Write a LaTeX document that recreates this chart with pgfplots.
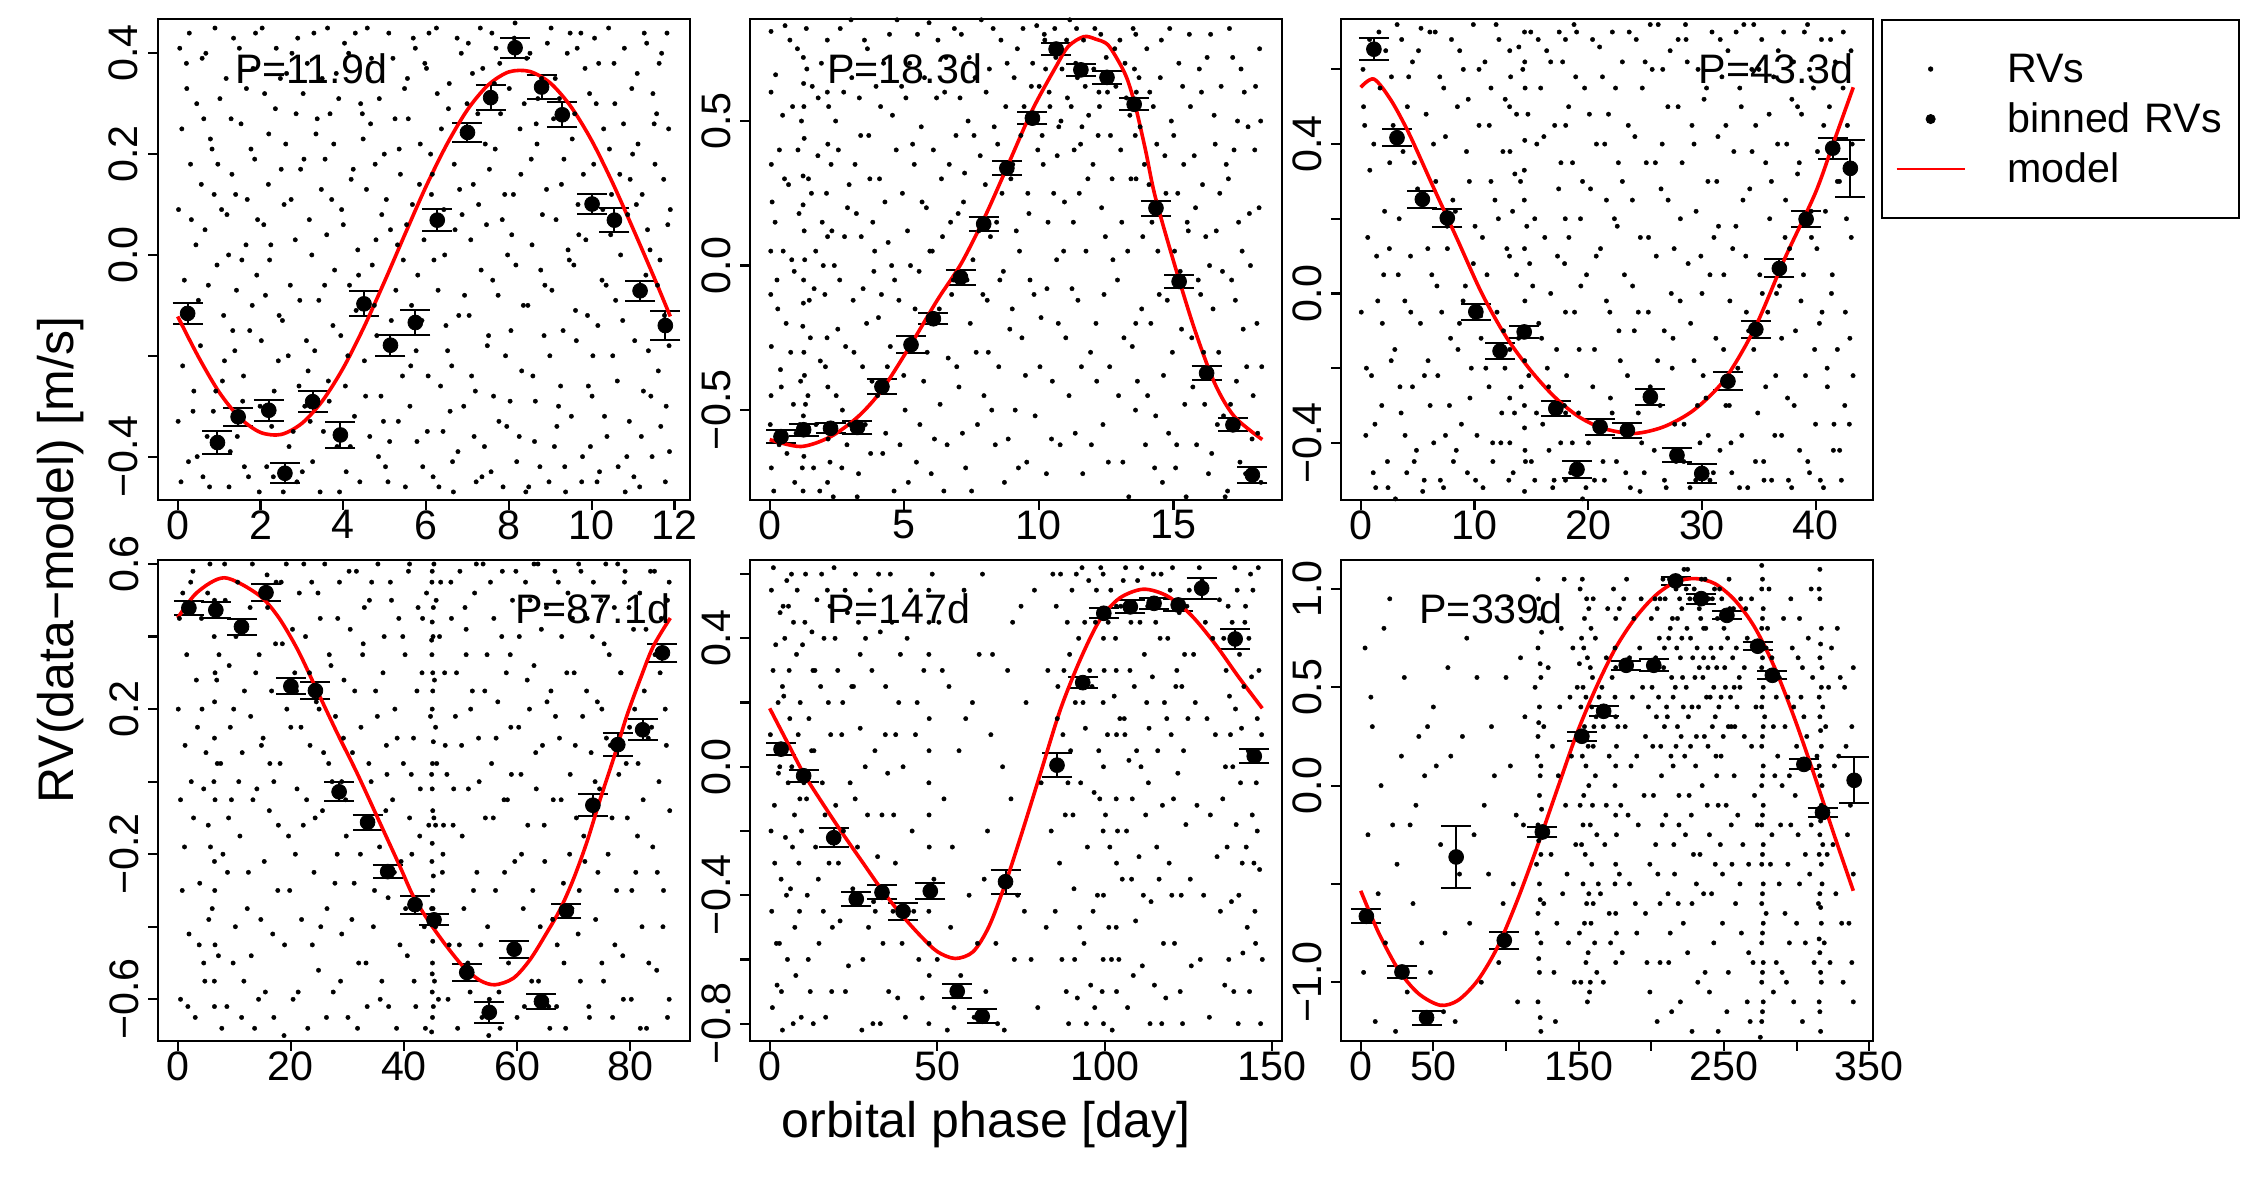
\documentclass[border=0pt]{standalone}
\usepackage{fontspec}
\setmainfont{Liberation Sans}
\usepackage{pgfplots}
\pgfplotsset{compat=1.18}

\definecolor{modelred}{RGB}{255,0,0}
\newcommand{\tlfont}{\fontsize{10.3}{12}\selectfont}
\newcommand{\lbfont}{\fontsize{12.5}{15}\selectfont}

\tikzset{ptext/.style={anchor=base west, inner sep=0pt, font=\tlfont}}
\pgfplotsset{
  panel/.style={
    scale only axis, width=133pt, height=120.25pt,
    anchor=south west,
    axis line style={line width=0.55pt},
    tick align=outside, tick pos=left,
    major tick length=2.4pt,
    tick style={black, line width=0.55pt},
    xticklabel style={anchor=north, inner xsep=0pt, inner ysep=0pt, font=\tlfont},
    yticklabel style={rotate=90, anchor=south, inner xsep=0pt, inner ysep=2.3pt, font=\tlfont},
    /pgf/number format/assume math mode=true,
  },
  rv/.style={only marks, mark=*, mark size=0.55pt, black, mark options={line width=0.1pt}},
  binned/.style={only marks, mark=*, mark size=1.85pt, black, mark options={line width=0.2pt},
    error bars/y dir=both, error bars/y explicit, error bars/error mark=-,
    error bars/error mark options={black, rotate=90, line width=0.5pt, mark size=3.75pt},
    error bars/error bar style={black, line width=0.5pt}},
  model/.style={modelred, line width=0.9pt, no marks, smooth, tension=0.5},
}

\begin{document}
\begin{tikzpicture}
\useasboundingbox (0,0) rectangle (562.5pt,300pt);

% ---------------- P = 11.9 d ----------------
\begin{axis}[panel, at={(39.5pt,175pt)},
  xmin=-0.476, xmax=12.376, ymin=-0.486, ymax=0.468,
  xtick={0,2,4,6,8,10,12}, xticklabels={0,2,4,6,8,10,12},
  ytick={-0.4,-0.2,0,0.2,0.4}, yticklabels={−0.4,,0.0,0.2,0.4}]
\addplot[rv] table[row sep=\\] {x y\\
0.05 0.41\\ 0.12 -0.22\\ 0.31 0.18\\ 0.08 -0.45\\ 0.44 0.02\\ 0.22 0.33\\ 0.37 -0.31\\ 0.02 0.09\\ 0.16 -0.05\\ 0.47 -0.40\\ 0.28 0.44\\
0.55 -0.18\\ 0.63 0.27\\ 0.71 -0.36\\ 0.88 0.12\\ 0.95 -0.02\\ 0.59 0.39\\ 0.77 -0.46\\ 0.83 0.21\\ 0.92 -0.27\\ 0.66 0.05\\
1.02 0.31\\ 1.11 -0.12\\ 1.19 0.08\\ 1.27 -0.39\\ 1.35 0.43\\ 1.42 -0.07\\ 1.08 -0.25\\ 1.31 0.16\\ 1.46 -0.33\\ 1.23 0.00\\ 1.38 -0.19\\
1.53 0.26\\ 1.61 -0.42\\ 1.68 0.11\\ 1.74 -0.15\\ 1.82 0.37\\ 1.91 -0.04\\ 1.57 -0.29\\ 1.86 0.19\\ 1.97 -0.47\\ 1.65 0.02\\
2.04 0.45\\ 2.12 -0.08\\ 2.19 0.14\\ 2.27 -0.34\\ 2.36 0.29\\ 2.43 -0.21\\ 2.08 0.06\\ 2.31 -0.44\\ 2.48 0.35\\ 2.22 -0.01\\
2.53 -0.13\\ 2.61 0.22\\ 2.69 -0.38\\ 2.76 0.40\\ 2.84 0.03\\ 2.93 -0.26\\ 2.57 0.10\\ 2.88 -0.45\\ 2.97 0.17\\ 2.72 -0.06\\
3.03 0.32\\ 3.11 -0.17\\ 3.18 0.07\\ 3.26 -0.41\\ 3.34 0.24\\ 3.41 -0.09\\ 3.07 -0.30\\ 3.29 0.44\\ 3.47 0.13\\ 3.15 -0.23\\
3.52 -0.35\\ 3.60 0.04\\ 3.68 0.28\\ 3.75 -0.14\\ 3.83 0.36\\ 3.91 -0.47\\ 3.56 0.19\\ 3.79 -0.03\\ 3.96 0.09\\ 3.64 -0.25\\
4.03 0.42\\ 4.11 -0.20\\ 4.19 0.15\\ 4.27 -0.32\\ 4.35 0.01\\ 4.42 0.30\\ 4.07 -0.43\\ 4.31 -0.11\\ 4.48 0.23\\ 4.15 -0.06\\
4.54 -0.28\\ 4.62 0.35\\ 4.70 -0.02\\ 4.77 0.18\\ 4.85 -0.40\\ 4.93 0.08\\ 4.58 0.45\\ 4.81 -0.16\\ 4.97 -0.33\\ 4.66 0.26\\
5.04 0.11\\ 5.12 -0.37\\ 5.20 0.39\\ 5.27 -0.07\\ 5.35 0.21\\ 5.43 -0.24\\ 5.08 -0.45\\ 5.31 0.02\\ 5.48 0.33\\ 5.16 -0.13\\
5.53 0.06\\ 5.61 -0.30\\ 5.69 0.43\\ 5.76 -0.19\\ 5.84 0.14\\ 5.92 -0.42\\ 5.57 0.27\\ 5.80 -0.04\\ 5.97 0.38\\ 5.65 -0.10\\
6.03 -0.35\\ 6.11 0.20\\ 6.19 -0.01\\ 6.27 0.32\\ 6.35 -0.26\\ 6.43 0.09\\ 6.07 0.44\\ 6.31 -0.46\\ 6.48 -0.14\\ 6.15 0.16\\
6.54 0.29\\ 6.62 -0.22\\ 6.70 0.05\\ 6.77 -0.39\\ 6.85 0.40\\ 6.93 -0.08\\ 6.58 -0.31\\ 6.81 0.13\\ 6.97 0.24\\ 6.66 -0.47\\
7.04 -0.12\\ 7.12 0.36\\ 7.19 -0.27\\ 7.27 0.10\\ 7.35 -0.44\\ 7.43 0.22\\ 7.08 0.03\\ 7.31 0.45\\ 7.48 -0.18\\ 7.16 -0.36\\
7.53 0.17\\ 7.61 -0.05\\ 7.69 0.41\\ 7.76 -0.33\\ 7.84 0.07\\ 7.92 -0.20\\ 7.57 -0.43\\ 7.80 0.28\\ 7.97 0.00\\ 7.65 0.34\\
8.03 -0.29\\ 8.11 0.12\\ 8.19 -0.41\\ 8.27 0.25\\ 8.35 -0.10\\ 8.43 0.39\\ 8.07 0.04\\ 8.31 -0.23\\ 8.48 -0.46\\ 8.15 0.46\\
8.54 0.19\\ 8.62 -0.37\\ 8.70 0.31\\ 8.77 -0.03\\ 8.85 -0.16\\ 8.93 0.42\\ 8.58 -0.24\\ 8.81 0.08\\ 8.97 -0.45\\ 8.66 0.26\\
9.04 -0.07\\ 9.12 0.35\\ 9.20 -0.30\\ 9.27 0.14\\ 9.35 -0.42\\ 9.43 0.01\\ 9.08 0.27\\ 9.31 -0.15\\ 9.48 0.44\\ 9.16 -0.34\\
9.53 0.23\\ 9.61 -0.11\\ 9.69 0.04\\ 9.76 -0.45\\ 9.84 0.37\\ 9.92 -0.26\\ 9.57 -0.02\\ 9.80 0.16\\ 9.97 -0.38\\ 9.65 0.41\\
10.03 -0.20\\ 10.11 0.30\\ 10.19 -0.43\\ 10.27 0.09\\ 10.35 -0.06\\ 10.43 0.21\\ 10.07 0.43\\ 10.31 -0.32\\ 10.48 0.12\\ 10.15 -0.14\\
10.54 0.38\\ 10.62 -0.25\\ 10.70 0.00\\ 10.77 0.26\\ 10.85 -0.40\\ 10.93 0.15\\ 10.58 -0.09\\ 10.81 -0.47\\ 10.97 0.33\\ 10.66 0.07\\
11.04 -0.17\\ 11.12 0.22\\ 11.20 -0.36\\ 11.27 0.44\\ 11.35 0.05\\ 11.43 -0.28\\ 11.08 0.10\\ 11.31 -0.04\\ 11.48 0.32\\ 11.16 -0.46\\
11.53 0.18\\ 11.61 -0.23\\ 11.69 0.40\\ 11.76 -0.12\\ 11.84 0.06\\ 11.88 -0.39\\ 11.57 0.28\\ 11.80 -0.30\\ 11.86 0.25\\ 11.65 -0.01\\
};
\addplot[rv, forget plot] table[row sep=\\] {x y\\
0.01 -0.33\\ 0.10 0.25\\ 0.14 -0.12\\ 0.21 0.38\\ 0.26 -0.41\\ 0.33 0.07\\ 0.39 -0.27\\ 0.46 0.30\\ 0.50 -0.09\\ 0.57 0.14\\ 0.61 -0.44\\ 0.68 0.40\\
0.74 -0.06\\ 0.79 0.23\\ 0.86 -0.31\\ 0.90 0.45\\ 0.97 0.18\\ 1.00 -0.38\\ 1.06 0.09\\ 1.13 -0.21\\ 1.17 0.35\\ 1.24 -0.46\\ 1.29 0.27\\ 1.33 -0.15\\
1.40 0.12\\ 1.44 -0.36\\ 1.49 0.41\\ 1.55 -0.01\\ 1.59 -0.24\\ 1.66 0.33\\ 1.71 -0.44\\ 1.77 0.21\\ 1.80 -0.10\\ 1.88 0.44\\ 1.93 0.07\\ 1.99 -0.30\\
2.02 -0.17\\ 2.10 0.32\\ 2.15 -0.42\\ 2.20 0.24\\ 2.25 0.02\\ 2.33 -0.27\\ 2.38 0.41\\ 2.45 -0.12\\ 2.50 0.17\\ 2.55 -0.47\\ 2.63 0.36\\ 2.67 -0.20\\
2.74 0.11\\ 2.79 -0.35\\ 2.86 0.28\\ 2.90 0.43\\ 2.95 -0.09\\ 3.01 -0.43\\ 3.05 0.19\\ 3.13 0.38\\ 3.20 -0.33\\ 3.24 0.00\\ 3.31 -0.19\\ 3.37 0.27\\
3.44 -0.47\\ 3.49 0.35\\ 3.55 -0.06\\ 3.62 0.45\\ 3.66 -0.29\\ 3.72 0.11\\ 3.77 0.22\\ 3.85 -0.38\\ 3.89 0.31\\ 3.94 -0.16\\ 4.00 0.06\\ 4.05 -0.26\\
4.13 0.40\\ 4.17 -0.38\\ 4.24 0.17\\ 4.29 0.44\\ 4.37 -0.04\\ 4.40 -0.45\\ 4.46 0.28\\ 4.51 -0.21\\ 4.56 0.13\\ 4.64 -0.36\\ 4.68 0.39\\ 4.75 -0.10\\
4.79 0.03\\ 4.87 0.31\\ 4.91 -0.28\\ 4.99 0.20\\ 5.02 -0.42\\ 5.10 0.44\\ 5.14 0.05\\ 5.22 -0.18\\ 5.25 0.27\\ 5.33 -0.33\\ 5.38 0.16\\ 5.45 -0.01\\
5.50 -0.46\\ 5.55 0.35\\ 5.63 -0.22\\ 5.67 0.10\\ 5.74 0.41\\ 5.78 -0.37\\ 5.86 0.22\\ 5.90 -0.13\\ 5.95 0.03\\ 6.01 0.37\\ 6.05 -0.24\\ 6.13 0.12\\
6.17 -0.44\\ 6.25 0.45\\ 6.29 -0.07\\ 6.37 0.25\\ 6.41 -0.35\\ 6.45 0.00\\ 6.52 -0.19\\ 6.56 0.34\\ 6.64 -0.41\\ 6.68 0.18\\ 6.75 0.43\\ 6.79 -0.12\\
6.87 0.08\\ 6.91 -0.30\\ 6.99 0.30\\ 7.02 0.42\\ 7.10 -0.24\\ 7.14 0.14\\ 7.21 -0.45\\ 7.25 0.28\\ 7.33 -0.03\\ 7.37 0.37\\ 7.41 -0.38\\ 7.46 0.06\\
7.51 -0.16\\ 7.59 0.44\\ 7.63 -0.28\\ 7.67 0.21\\ 7.74 -0.08\\ 7.78 0.38\\ 7.86 -0.46\\ 7.90 0.12\\ 7.95 -0.34\\ 8.01 0.33\\ 8.05 -0.15\\ 8.13 0.43\\
8.17 -0.02\\ 8.25 -0.36\\ 8.29 0.16\\ 8.37 0.30\\ 8.41 -0.47\\ 8.46 -0.10\\ 8.51 0.40\\ 8.56 0.02\\ 8.64 -0.29\\ 8.68 0.22\\ 8.75 -0.42\\ 8.79 0.35\\
8.87 -0.06\\ 8.91 0.13\\ 8.99 -0.20\\ 9.02 0.45\\ 9.10 -0.38\\ 9.14 0.07\\ 9.22 0.31\\ 9.25 -0.26\\ 9.33 0.19\\ 9.37 -0.47\\ 9.41 0.40\\ 9.46 -0.01\\
9.51 -0.32\\ 9.59 0.28\\ 9.63 -0.17\\ 9.67 0.10\\ 9.74 0.44\\ 9.78 -0.40\\ 9.86 0.03\\ 9.90 -0.12\\ 9.95 0.32\\ 10.01 -0.28\\ 10.05 0.18\\ 10.13 -0.45\\
10.17 0.38\\ 10.25 -0.05\\ 10.29 0.25\\ 10.37 -0.36\\ 10.41 0.45\\ 10.46 0.04\\ 10.51 -0.20\\ 10.56 0.30\\ 10.64 -0.42\\ 10.68 0.16\\ 10.75 -0.13\\ 10.79 0.41\\
10.87 0.08\\ 10.91 -0.33\\ 10.99 0.20\\ 11.02 -0.44\\ 11.10 0.36\\ 11.14 -0.08\\ 11.22 0.12\\ 11.25 -0.27\\ 11.33 0.42\\ 11.37 -0.19\\ 11.41 0.01\\ 11.46 -0.40\\
11.51 0.26\\ 11.59 -0.06\\ 11.63 0.38\\ 11.67 -0.34\\ 11.74 0.15\\ 11.78 -0.45\\ 11.82 0.44\\ 11.87 -0.18\\ 11.90 0.09\\
};
\addplot[binned] coordinates {
(0.24,-0.116) +- (0,0.021) (0.96,-0.372) +- (0,0.022) (1.46,-0.321) +- (0,0.018)
(2.20,-0.308) +- (0,0.021) (2.59,-0.433) +- (0,0.020) (3.26,-0.291) +- (0,0.021)
(3.93,-0.357) +- (0,0.025) (4.50,-0.097) +- (0,0.025) (5.14,-0.179) +- (0,0.021)
(5.74,-0.134) +- (0,0.025) (6.27,0.069) +- (0,0.022) (7.00,0.243) +- (0,0.019)
(7.56,0.312) +- (0,0.025) (8.15,0.411) +- (0,0.020) (8.79,0.333) +- (0,0.024)
(9.29,0.278) +- (0,0.025) (10.01,0.101) +- (0,0.020) (10.55,0.069) +- (0,0.024)
(11.17,-0.071) +- (0,0.020) (11.78,-0.140) +- (0,0.029)
};
\addplot[model] coordinates {
(0,-0.122) (0.5,-0.202) (1.0,-0.272) (1.5,-0.323) (2.0,-0.352) (2.5,-0.356) (3.0,-0.334)
(3.5,-0.289) (4.0,-0.224) (4.5,-0.143) (5.0,-0.052) (5.5,0.043) (6.0,0.136) (6.5,0.219)
(7.0,0.288) (7.5,0.337) (8.0,0.363) (8.5,0.364) (9.0,0.341) (9.5,0.294) (10.0,0.227)
(10.5,0.144) (11.0,0.052) (11.5,-0.043) (11.9,-0.122)
};
\node[ptext] at (rel axis cs:0.144,0.866) {P=11.9d};
\end{axis}

% ---------------- P = 18.3 d ----------------
\begin{axis}[panel, at={(187.5pt,175pt)},
  xmin=-0.732, xmax=19.032, ymin=-0.811, ymax=0.853,
  xtick={0,5,10,15}, xticklabels={0,5,10,15},
  ytick={-0.5,0,0.5}, yticklabels={−0.5,0.0,0.5}]
\addplot[rv] table[row sep=\\] {x y\\
1.25 0.72\\ 1.27 0.55\\ 1.24 0.31\\ 1.28 0.12\\ 1.26 -0.05\\ 1.23 -0.21\\ 1.29 -0.38\\ 1.25 -0.52\\ 1.27 -0.66\\ 1.24 -0.78\\ 1.26 0.63\\ 1.28 0.44\\ 1.25 -0.13\\ 1.27 -0.30\\ 1.24 0.21\\
0.05 0.81\\ 0.06 0.35\\ 0.04 -0.10\\ 0.05 -0.45\\ 0.06 -0.70\\ 0.05 0.60\\ 0.04 0.05\\ 0.06 -0.28\\
2.14 0.78\\ 2.16 0.42\\ 2.15 0.10\\ 2.13 -0.25\\ 2.17 -0.60\\ 2.15 -0.75\\ 2.14 0.60\\ 2.16 -0.42\\
13.60 0.80\\ 13.62 0.60\\ 13.58 0.45\\ 13.61 0.30\\ 13.60 -0.20\\ 13.59 -0.50\\
0.20 0.15\\ 0.35 -0.62\\ 0.48 0.52\\ 0.61 -0.20\\ 0.75 0.78\\ 0.88 -0.48\\ 0.27 -0.05\\ 0.55 0.30\\ 0.82 0.02\\ 0.93 -0.75\\ 0.40 -0.36\\
1.05 0.40\\ 1.12 -0.55\\ 1.38 0.68\\ 1.47 -0.12\\ 1.55 0.25\\ 1.63 -0.70\\ 1.71 0.05\\ 1.80 0.58\\ 1.88 -0.33\\ 1.95 0.15\\ 1.42 -0.45\\
2.05 -0.10\\ 2.28 0.35\\ 2.36 -0.80\\ 2.45 0.50\\ 2.53 -0.22\\ 2.62 0.82\\ 2.70 -0.50\\ 2.78 0.10\\ 2.87 -0.62\\ 2.95 0.28\\ 2.40 0.00\\
3.05 0.65\\ 3.13 -0.30\\ 3.22 0.18\\ 3.30 -0.72\\ 3.38 0.45\\ 3.47 -0.08\\ 3.55 -0.55\\ 3.63 0.75\\ 3.72 0.30\\ 3.80 -0.40\\ 3.90 0.05\\
4.04 -0.18\\ 4.12 0.55\\ 4.20 -0.65\\ 4.28 0.22\\ 4.37 -0.35\\ 4.45 0.80\\ 4.53 0.00\\ 4.62 -0.78\\ 4.70 0.40\\ 4.80 -0.12\\ 4.90 0.62\\
5.03 -0.50\\ 5.12 0.12\\ 5.20 0.70\\ 5.28 -0.25\\ 5.37 0.35\\ 5.45 -0.68\\ 5.55 -0.02\\ 5.63 0.48\\ 5.72 -0.40\\ 5.82 0.20\\ 5.92 0.84\\
6.04 0.05\\ 6.12 -0.60\\ 6.20 0.58\\ 6.30 -0.15\\ 6.38 0.30\\ 6.47 -0.78\\ 6.55 0.72\\ 6.63 -0.32\\ 6.72 0.15\\ 6.82 -0.05\\ 6.92 0.45\\
7.03 -0.42\\ 7.12 0.80\\ 7.20 0.22\\ 7.28 -0.70\\ 7.37 0.50\\ 7.45 -0.20\\ 7.55 0.02\\ 7.63 0.65\\ 7.72 -0.55\\ 7.82 0.38\\ 7.92 -0.10\\
8.04 0.60\\ 8.12 -0.30\\ 8.20 0.10\\ 8.30 0.82\\ 8.38 -0.62\\ 8.47 0.42\\ 8.55 -0.05\\ 8.63 0.25\\ 8.72 -0.75\\ 8.82 0.70\\ 8.92 -0.22\\
9.03 0.35\\ 9.12 -0.50\\ 9.20 0.75\\ 9.28 0.05\\ 9.37 -0.25\\ 9.45 0.55\\ 9.55 -0.68\\ 9.63 0.18\\ 9.72 0.62\\ 9.82 -0.10\\ 9.92 0.83\\
10.04 -0.35\\ 10.12 0.45\\ 10.20 0.80\\ 10.30 -0.08\\ 10.38 0.60\\ 10.47 -0.60\\ 10.55 0.25\\ 10.63 0.72\\ 10.72 -0.20\\ 10.82 0.50\\ 10.92 0.05\\ 10.25 0.68\\ 10.68 0.38\\
11.03 0.78\\ 11.12 -0.45\\ 11.20 0.55\\ 11.28 0.15\\ 11.37 0.70\\ 11.45 -0.12\\ 11.55 0.42\\ 11.63 -0.72\\ 11.72 0.62\\ 11.82 0.30\\ 11.92 -0.30\\ 11.40 0.82\\ 11.60 0.48\\
12.04 0.68\\ 12.12 -0.20\\ 12.20 0.45\\ 12.30 0.80\\ 12.38 -0.55\\ 12.47 0.10\\ 12.55 0.60\\ 12.63 -0.35\\ 12.72 0.30\\ 12.82 0.75\\ 12.92 -0.05\\ 12.25 0.55\\
13.04 0.40\\ 13.12 -0.68\\ 13.20 0.70\\ 13.30 0.05\\ 13.38 0.52\\ 13.47 -0.28\\ 13.72 0.65\\ 13.82 -0.15\\ 13.92 0.35\\ 13.50 0.82\\
14.04 -0.45\\ 14.12 0.60\\ 14.20 0.15\\ 14.30 -0.70\\ 14.38 0.42\\ 14.47 -0.10\\ 14.55 0.78\\ 14.63 -0.38\\ 14.72 0.25\\ 14.82 -0.58\\ 14.92 0.50\\
15.04 0.05\\ 15.12 -0.62\\ 15.20 0.70\\ 15.30 -0.22\\ 15.38 0.35\\ 15.47 -0.80\\ 15.55 0.12\\ 15.63 0.55\\ 15.72 -0.42\\ 15.82 0.20\\ 15.92 -0.05\\
16.04 0.60\\ 16.12 -0.30\\ 16.20 0.10\\ 16.30 -0.72\\ 16.38 0.80\\ 16.47 -0.15\\ 16.55 0.42\\ 16.63 -0.55\\ 16.72 0.25\\ 16.82 -0.02\\ 16.92 -0.80\\
17.04 0.30\\ 17.12 -0.48\\ 17.20 0.72\\ 17.30 -0.12\\ 17.38 0.50\\ 17.47 -0.68\\ 17.55 0.05\\ 17.63 0.60\\ 17.72 -0.35\\ 17.82 0.18\\ 17.92 -0.60\\ 18.02 0.40\\ 18.10 -0.20\\ 18.20 0.75\\ 18.25 -0.75\\
};
\addplot[rv, forget plot] table[row sep=\\] {x y\\
0.02 -0.55\\ 0.09 0.22\\ 0.15 -0.78\\ 0.22 0.66\\ 0.30 -0.15\\ 0.36 0.40\\ 0.43 -0.42\\ 0.50 0.05\\ 0.57 0.83\\ 0.64 -0.65\\ 0.70 0.28\\ 0.78 -0.30\\
0.85 0.55\\ 0.91 -0.02\\ 0.98 -0.58\\ 1.03 0.75\\ 1.09 0.18\\ 1.15 -0.40\\ 1.18 0.50\\ 1.21 -0.70\\ 1.30 0.02\\ 1.33 -0.48\\ 1.36 0.82\\ 1.44 0.30\\
1.51 -0.25\\ 1.58 0.62\\ 1.65 -0.08\\ 1.72 -0.55\\ 1.79 0.38\\ 1.86 -0.78\\ 1.92 0.70\\ 1.99 0.00\\ 2.07 -0.35\\ 2.11 0.25\\ 2.19 0.55\\ 2.24 -0.68\\
2.31 0.12\\ 2.38 0.72\\ 2.47 -0.45\\ 2.55 0.40\\ 2.60 -0.05\\ 2.68 -0.70\\ 2.75 0.60\\ 2.82 -0.28\\ 2.89 0.20\\ 2.97 -0.55\\ 3.02 0.85\\ 3.10 -0.12\\
3.17 0.35\\ 3.25 -0.80\\ 3.33 0.58\\ 3.40 0.10\\ 3.45 -0.35\\ 3.52 0.78\\ 3.60 -0.20\\ 3.68 0.45\\ 3.75 -0.65\\ 3.83 0.15\\ 3.87 -0.02\\ 3.95 0.62\\
4.01 -0.45\\ 4.08 0.30\\ 4.15 -0.10\\ 4.23 0.70\\ 4.31 -0.58\\ 4.40 0.08\\ 4.48 -0.28\\ 4.56 0.52\\ 4.64 -0.05\\ 4.73 0.85\\ 4.84 -0.62\\ 4.93 0.25\\
4.98 -0.38\\ 5.06 0.58\\ 5.15 -0.75\\ 5.23 0.00\\ 5.31 0.42\\ 5.40 -0.15\\ 5.49 0.80\\ 5.58 -0.55\\ 5.66 0.22\\ 5.75 0.65\\ 5.85 -0.30\\ 5.95 0.05\\
6.00 -0.72\\ 6.08 0.40\\ 6.16 -0.20\\ 6.25 0.78\\ 6.33 -0.48\\ 6.42 0.10\\ 6.50 0.60\\ 6.59 -0.62\\ 6.67 0.35\\ 6.76 -0.10\\ 6.86 0.82\\ 6.95 -0.35\\
7.00 0.18\\ 7.07 0.58\\ 7.16 -0.58\\ 7.24 0.32\\ 7.33 -0.05\\ 7.41 0.72\\ 7.50 -0.78\\ 7.59 0.45\\ 7.67 -0.30\\ 7.77 0.12\\ 7.86 0.85\\ 7.96 -0.45\\
8.01 0.28\\ 8.08 -0.12\\ 8.16 0.68\\ 8.25 -0.50\\ 8.34 0.48\\ 8.43 0.15\\ 8.51 -0.35\\ 8.59 0.78\\ 8.68 -0.02\\ 8.77 0.55\\ 8.86 -0.60\\ 8.96 0.30\\
9.01 -0.15\\ 9.08 0.65\\ 9.16 0.12\\ 9.24 -0.70\\ 9.33 0.45\\ 9.41 0.82\\ 9.50 -0.38\\ 9.59 0.25\\ 9.67 -0.05\\ 9.77 0.70\\ 9.86 -0.52\\ 9.96 0.40\\
10.01 0.62\\ 10.08 -0.18\\ 10.16 0.35\\ 10.22 0.78\\ 10.28 -0.72\\ 10.34 0.15\\ 10.41 0.55\\ 10.50 -0.40\\ 10.59 0.82\\ 10.66 0.02\\ 10.74 0.48\\ 10.79 -0.62\\
10.86 0.68\\ 10.95 0.22\\ 11.00 -0.25\\ 11.06 0.58\\ 11.15 0.85\\ 11.23 -0.08\\ 11.31 0.40\\ 11.35 -0.58\\ 11.43 0.65\\ 11.50 0.25\\ 11.58 -0.35\\ 11.66 0.78\\
11.75 0.05\\ 11.85 0.52\\ 11.95 -0.62\\ 12.01 0.35\\ 12.08 0.82\\ 12.15 -0.40\\ 12.23 0.60\\ 12.33 0.20\\ 12.42 -0.10\\ 12.50 0.72\\ 12.58 -0.68\\ 12.66 0.45\\
12.75 0.02\\ 12.86 0.62\\ 12.96 -0.45\\ 13.01 0.78\\ 13.08 0.15\\ 13.16 -0.25\\ 13.25 0.58\\ 13.34 -0.80\\ 13.42 0.30\\ 13.55 0.68\\ 13.66 -0.40\\ 13.76 0.48\\
13.86 0.10\\ 13.96 -0.62\\ 14.01 0.75\\ 14.09 0.28\\ 14.16 -0.20\\ 14.25 0.55\\ 14.34 -0.52\\ 14.42 0.05\\ 14.51 0.65\\ 14.59 -0.75\\ 14.68 0.38\\ 14.77 -0.12\\
14.86 0.82\\ 14.96 -0.30\\ 15.01 0.45\\ 15.08 -0.70\\ 15.16 0.25\\ 15.25 -0.02\\ 15.34 0.62\\ 15.42 -0.48\\ 15.51 0.15\\ 15.59 0.80\\ 15.68 -0.25\\ 15.77 0.38\\
15.86 -0.62\\ 15.96 0.68\\ 16.01 -0.10\\ 16.08 0.28\\ 16.16 -0.48\\ 16.25 0.72\\ 16.34 0.00\\ 16.42 -0.65\\ 16.51 0.52\\ 16.59 0.12\\ 16.68 -0.30\\ 16.77 0.62\\
16.86 -0.52\\ 16.96 0.35\\ 17.01 -0.78\\ 17.08 0.82\\ 17.16 -0.05\\ 17.25 0.40\\ 17.34 -0.40\\ 17.42 0.15\\ 17.51 0.68\\ 17.59 -0.22\\ 17.68 -0.72\\ 17.77 0.48\\
17.86 0.00\\ 17.96 -0.45\\ 18.05 0.62\\ 18.13 -0.58\\ 18.18 0.20\\ 18.24 0.50\\ 18.28 -0.35\\
};
\addplot[binned] coordinates {
(0.42,-0.592) +- (0,0.022) (1.26,-0.568) +- (0,0.020) (2.26,-0.563) +- (0,0.017)
(3.26,-0.560) +- (0,0.023) (4.17,-0.419) +- (0,0.026) (5.25,-0.274) +- (0,0.029)
(6.08,-0.184) +- (0,0.019) (7.09,-0.041) +- (0,0.026) (7.95,0.144) +- (0,0.023)
(8.81,0.337) +- (0,0.023) (9.76,0.510) +- (0,0.021) (10.64,0.749) +- (0,0.022)
(11.56,0.677) +- (0,0.022) (12.53,0.651) +- (0,0.023) (13.54,0.558) +- (0,0.020)
(14.35,0.199) +- (0,0.026) (15.21,-0.055) +- (0,0.022) (16.23,-0.372) +- (0,0.024)
(17.21,-0.551) +- (0,0.022) (17.93,-0.724) +- (0,0.028)
};
\addplot[model] coordinates {
(0,-0.602) (1.16,-0.626) (2.26,-0.592) (3.29,-0.522) (4.17,-0.430) (5.20,-0.280)
(6.23,-0.119) (7.12,0.008) (8.00,0.170) (8.88,0.354) (9.76,0.539) (10.64,0.689)
(11.09,0.758) (11.67,0.792) (12.12,0.783) (12.56,0.764) (13.00,0.700) (13.29,0.643)
(13.59,0.550) (13.96,0.400) (14.32,0.239) (15.06,-0.003) (15.79,-0.222) (16.53,-0.407)
(17.26,-0.522) (18.30,-0.602)
};
\node[ptext] at (rel axis cs:0.144,0.866) {P=18.3d};
\end{axis}

% ---------------- P = 43.3 d ----------------
\begin{axis}[panel, at={(335.25pt,175pt)},
  xmin=-1.732, xmax=45.032, ymin=-0.553, ymax=0.735,
  xtick={0,10,20,30,40}, xticklabels={0,10,20,30,40},
  ytick={-0.4,-0.2,0,0.2,0.4,0.6}, yticklabels={−0.4,,0.0,,0.4,},
  legend style={at={(1,1)}, anchor=north west, xshift=2pt, draw=black, line width=0.55pt,
    inner xsep=3.4pt, inner ysep=6pt, column sep=10.4pt, font=\tlfont,
    nodes={inner sep=0pt, text height=9.5pt, text depth=3pt, text width=54.5pt, align=left}},
  legend cell align=left]
\addplot[rv, legend image post style={mark size=0.6pt}] table[row sep=\\] {x y\\
14.40 0.70\\ 14.45 0.55\\ 14.42 0.41\\ 14.38 0.25\\ 14.40 0.12\\ 14.43 -0.02\\ 14.41 -0.18\\ 14.39 -0.30\\ 14.44 -0.42\\ 14.40 -0.53\\ 14.42 0.62\\ 14.38 0.33\\ 14.41 -0.10\\ 14.40 -0.36\\
13.10 0.65\\ 13.12 0.38\\ 13.08 0.10\\ 13.10 -0.15\\ 13.11 -0.40\\ 13.09 0.50\\ 13.10 -0.28\\
18.00 0.68\\ 18.02 0.45\\ 17.98 0.20\\ 18.00 -0.05\\ 18.01 -0.32\\ 18.00 -0.50\\
0.2 0.60\\ 0.5 -0.20\\ 0.8 0.33\\ 1.1 -0.48\\ 1.4 0.10\\ 1.6 0.70\\ 1.9 -0.08\\ 0.35 0.45\\ 1.25 -0.35\\
2.1 0.22\\ 2.4 -0.52\\ 2.7 0.58\\ 3.0 -0.15\\ 3.3 0.05\\ 3.6 0.68\\ 3.9 -0.38\\ 2.55 0.35\\ 3.45 -0.25\\
4.1 0.50\\ 4.4 -0.05\\ 4.7 -0.45\\ 5.0 0.28\\ 5.3 0.71\\ 5.6 -0.22\\ 5.9 0.12\\ 4.55 0.62\\ 5.45 -0.53\\
6.1 -0.30\\ 6.4 0.40\\ 6.7 0.02\\ 7.0 -0.50\\ 7.3 0.55\\ 7.6 0.18\\ 7.9 -0.12\\ 6.55 0.70\\ 7.45 -0.38\\
8.1 0.25\\ 8.4 -0.42\\ 8.7 0.65\\ 9.0 -0.02\\ 9.3 0.38\\ 9.6 -0.28\\ 9.9 0.08\\ 8.55 -0.15\\ 9.45 0.52\\
10.1 -0.50\\ 10.4 0.60\\ 10.7 0.15\\ 11.0 -0.20\\ 11.3 0.45\\ 11.6 -0.40\\ 11.9 0.72\\ 10.55 -0.06\\ 11.45 0.30\\
12.1 0.20\\ 12.4 -0.32\\ 12.7 0.52\\ 13.4 -0.48\\ 13.7 0.05\\ 13.9 0.66\\ 12.55 -0.10\\ 13.55 0.32\\
14.1 -0.25\\ 14.7 0.48\\ 15.0 -0.45\\ 15.3 0.20\\ 15.6 0.68\\ 15.9 -0.12\\ 14.85 0.08\\ 15.45 -0.32\\
16.1 0.42\\ 16.4 -0.20\\ 16.7 0.62\\ 17.0 -0.50\\ 17.3 0.10\\ 17.6 0.35\\ 17.9 -0.30\\ 16.55 -0.42\\ 17.45 0.70\\
18.3 0.15\\ 18.6 -0.40\\ 18.9 0.58\\ 19.2 -0.15\\ 19.5 0.30\\ 19.8 -0.52\\ 18.75 0.72\\ 19.35 0.02\\
20.1 0.48\\ 20.4 -0.25\\ 20.7 0.10\\ 21.0 0.66\\ 21.3 -0.45\\ 21.6 0.25\\ 21.9 -0.05\\ 20.55 -0.50\\ 21.45 0.40\\
22.1 -0.32\\ 22.4 0.55\\ 22.7 -0.10\\ 23.0 0.30\\ 23.3 -0.48\\ 23.6 0.70\\ 23.9 0.02\\ 22.55 0.18\\ 23.45 -0.22\\
24.1 0.42\\ 24.4 -0.05\\ 24.7 -0.40\\ 25.0 0.62\\ 25.3 0.15\\ 25.6 -0.28\\ 25.9 0.35\\ 24.55 -0.53\\ 25.45 0.72\\
26.1 -0.18\\ 26.4 0.28\\ 26.7 -0.50\\ 27.0 0.50\\ 27.3 0.00\\ 27.6 -0.35\\ 27.9 0.68\\ 26.55 0.60\\ 27.45 -0.12\\
28.1 0.20\\ 28.4 -0.45\\ 28.7 0.62\\ 29.0 -0.08\\ 29.3 0.40\\ 29.6 -0.30\\ 29.9 0.10\\ 28.55 0.72\\ 29.45 -0.50\\
30.1 -0.22\\ 30.4 0.55\\ 30.7 0.05\\ 31.0 -0.48\\ 31.3 0.30\\ 31.6 0.68\\ 31.9 -0.15\\ 30.55 -0.38\\ 31.45 0.18\\
32.1 0.45\\ 32.4 -0.30\\ 32.7 0.12\\ 33.0 0.70\\ 33.3 -0.52\\ 33.6 0.25\\ 33.9 -0.05\\ 32.55 -0.40\\ 33.45 0.50\\
34.1 -0.10\\ 34.4 0.38\\ 34.7 -0.45\\ 35.0 0.60\\ 35.3 0.00\\ 35.6 -0.25\\ 35.9 0.48\\ 34.55 0.72\\ 35.45 -0.50\\
36.1 0.30\\ 36.4 -0.38\\ 36.7 0.65\\ 37.0 -0.12\\ 37.3 0.15\\ 37.6 -0.50\\ 37.9 0.52\\ 36.55 0.00\\ 37.45 0.40\\
38.1 -0.30\\ 38.4 0.50\\ 38.7 -0.02\\ 39.0 0.70\\ 39.3 -0.45\\ 39.6 0.22\\ 39.9 -0.15\\ 38.55 0.35\\ 39.45 0.60\\
40.1 0.12\\ 40.4 -0.50\\ 40.7 0.45\\ 41.0 -0.20\\ 41.3 0.68\\ 41.6 -0.35\\ 41.9 0.30\\ 40.55 -0.05\\ 41.45 0.05\\
42.1 -0.42\\ 42.4 0.55\\ 42.7 0.20\\ 43.0 -0.12\\ 43.2 0.40\\ 42.55 -0.30\\ 43.1 0.65\\
};
\addlegendentry{RVs}
\addplot[rv, forget plot] table[row sep=\\] {x y\\
0.05 -0.05\\ 0.25 0.50\\ 0.45 -0.38\\ 0.62 0.15\\ 0.78 0.68\\ 0.95 -0.22\\ 1.15 0.40\\ 1.32 -0.52\\ 1.50 -0.02\\ 1.70 0.55\\ 1.85 -0.30\\ 2.02 0.05\\
2.20 0.65\\ 2.35 -0.45\\ 2.52 0.12\\ 2.68 -0.18\\ 2.85 0.45\\ 3.05 -0.55\\ 3.20 0.72\\ 3.38 0.20\\ 3.55 -0.32\\ 3.72 0.38\\ 3.88 -0.02\\ 4.05 -0.48\\
4.22 0.58\\ 4.38 0.10\\ 4.55 -0.25\\ 4.72 0.35\\ 4.90 -0.42\\ 5.08 0.65\\ 5.25 -0.08\\ 5.42 0.25\\ 5.58 -0.50\\ 5.75 0.48\\ 5.92 -0.18\\ 6.08 0.70\\
6.25 0.05\\ 6.42 -0.40\\ 6.60 0.30\\ 6.78 -0.22\\ 6.95 0.58\\ 7.12 -0.05\\ 7.28 -0.52\\ 7.45 0.42\\ 7.62 0.12\\ 7.80 -0.30\\ 7.98 0.68\\ 8.15 -0.45\\
8.32 0.22\\ 8.50 0.50\\ 8.68 -0.08\\ 8.85 -0.35\\ 9.02 0.60\\ 9.20 0.02\\ 9.38 -0.48\\ 9.55 0.30\\ 9.72 -0.20\\ 9.90 0.72\\ 10.05 0.18\\ 10.22 -0.38\\
10.40 0.45\\ 10.58 -0.12\\ 10.75 -0.52\\ 10.92 0.62\\ 11.10 0.05\\ 11.28 -0.25\\ 11.45 0.55\\ 11.62 -0.45\\ 11.80 0.25\\ 11.98 -0.05\\ 12.15 0.68\\ 12.32 -0.40\\
12.50 0.38\\ 12.68 -0.20\\ 12.85 0.12\\ 13.02 -0.50\\ 13.18 0.58\\ 13.35 0.22\\ 13.52 -0.32\\ 13.70 0.48\\ 13.88 -0.12\\ 14.05 0.30\\ 14.25 0.60\\ 14.48 -0.45\\
14.60 0.18\\ 14.78 -0.22\\ 14.95 0.70\\ 15.12 0.02\\ 15.30 -0.50\\ 15.48 0.40\\ 15.65 -0.08\\ 15.82 0.55\\ 16.00 -0.35\\ 16.18 0.15\\ 16.35 0.65\\ 16.52 -0.25\\
16.70 0.00\\ 16.88 -0.52\\ 17.05 0.45\\ 17.22 -0.15\\ 17.40 0.28\\ 17.58 -0.40\\ 17.75 0.62\\ 17.92 0.08\\ 18.10 -0.22\\ 18.28 0.50\\ 18.45 -0.48\\ 18.62 0.35\\
18.80 -0.05\\ 18.98 0.70\\ 19.15 -0.32\\ 19.32 0.20\\ 19.50 -0.55\\ 19.68 0.55\\ 19.85 0.05\\ 20.02 -0.40\\ 20.20 0.28\\ 20.38 0.68\\ 20.55 -0.15\\ 20.72 0.40\\
20.90 -0.35\\ 21.08 0.12\\ 21.25 0.58\\ 21.42 -0.50\\ 21.60 -0.02\\ 21.78 0.48\\ 21.95 -0.28\\ 22.12 0.70\\ 22.30 0.20\\ 22.48 -0.45\\ 22.65 0.35\\ 22.82 -0.18\\
23.00 0.62\\ 23.18 0.05\\ 23.35 -0.38\\ 23.52 0.45\\ 23.70 -0.52\\ 23.88 0.25\\ 24.05 -0.10\\ 24.22 0.68\\ 24.40 -0.32\\ 24.58 0.15\\ 24.75 0.55\\ 24.92 -0.48\\
25.10 0.35\\ 25.28 -0.05\\ 25.45 -0.25\\ 25.62 0.60\\ 25.80 -0.42\\ 25.98 0.10\\ 26.15 0.72\\ 26.32 -0.30\\ 26.50 0.40\\ 26.68 -0.10\\ 26.85 -0.52\\ 27.02 0.25\\
27.20 0.65\\ 27.38 -0.20\\ 27.55 0.12\\ 27.72 -0.45\\ 27.90 0.50\\ 28.08 -0.02\\ 28.25 0.35\\ 28.42 -0.35\\ 28.60 0.68\\ 28.78 0.08\\ 28.95 -0.52\\ 29.12 0.45\\
29.30 -0.18\\ 29.48 0.22\\ 29.65 0.60\\ 29.82 -0.40\\ 30.00 0.00\\ 30.18 0.52\\ 30.35 -0.28\\ 30.52 0.30\\ 30.70 -0.50\\ 30.88 0.70\\ 31.05 0.15\\ 31.22 -0.12\\
31.40 0.42\\ 31.58 -0.42\\ 31.75 0.58\\ 31.92 0.05\\ 32.10 -0.30\\ 32.28 0.65\\ 32.45 -0.02\\ 32.62 -0.48\\ 32.80 0.38\\ 32.98 0.18\\ 33.15 -0.20\\ 33.32 0.55\\
33.50 -0.38\\ 33.68 0.72\\ 33.85 0.10\\ 34.02 -0.52\\ 34.20 0.28\\ 34.38 0.60\\ 34.55 -0.15\\ 34.72 0.45\\ 34.90 -0.32\\ 35.08 0.05\\ 35.25 0.68\\ 35.42 -0.45\\
35.60 0.35\\ 35.78 -0.05\\ 35.95 0.20\\ 36.12 -0.50\\ 36.30 0.58\\ 36.48 -0.22\\ 36.65 0.40\\ 36.82 0.02\\ 37.00 -0.38\\ 37.18 0.70\\ 37.35 0.25\\ 37.52 -0.28\\
37.70 0.12\\ 37.88 -0.52\\ 38.05 0.62\\ 38.22 -0.10\\ 38.40 0.32\\ 38.58 -0.42\\ 38.75 0.48\\ 38.92 0.05\\ 39.10 -0.22\\ 39.28 0.72\\ 39.45 -0.48\\ 39.62 0.15\\
39.80 0.55\\ 39.98 -0.35\\ 40.15 0.38\\ 40.32 -0.08\\ 40.50 0.68\\ 40.68 -0.52\\ 40.85 0.22\\ 41.02 -0.25\\ 41.20 0.50\\ 41.38 0.00\\ 41.55 -0.42\\ 41.72 0.62\\
41.90 -0.15\\ 42.08 0.30\\ 42.25 -0.50\\ 42.42 0.70\\ 42.60 -0.05\\ 42.78 0.45\\ 42.95 -0.35\\ 43.12 0.15\\ 43.28 -0.22\\
};
\addplot[binned, legend image post style={mark size=1.15pt}] coordinates {
(1.16,0.654) +- (0,0.030) (3.19,0.417) +- (0,0.023) (5.42,0.252) +- (0,0.022)
(7.61,0.202) +- (0,0.024) (10.12,-0.049) +- (0,0.021) (12.25,-0.154) +- (0,0.021)
(14.37,-0.103) +- (0,0.016) (17.15,-0.308) +- (0,0.020) (19.01,-0.471) +- (0,0.022)
(21.04,-0.357) +- (0,0.021) (23.44,-0.366) +- (0,0.020) (25.46,-0.277) +- (0,0.021)
(27.80,-0.433) +- (0,0.018) (29.98,-0.482) +- (0,0.025) (32.28,-0.235) +- (0,0.024)
(34.73,-0.096) +- (0,0.022) (36.80,0.067) +- (0,0.024) (39.15,0.199) +- (0,0.021)
(41.49,0.389) +- (0,0.028) (43.04,0.335) +- (0,0.077)
};
\addlegendentry{binned RVs}
\addplot[model, legend image post style={line width=0.4pt}] coordinates {
(0,0.552) (1.16,0.574) (2.65,0.518) (4.25,0.428) (6.38,0.285) (8.52,0.143) (10.65,0.000)
(12.78,-0.116) (14.91,-0.205) (17.04,-0.277) (19.17,-0.330) (21.30,-0.361) (23.96,-0.375)
(26.63,-0.357) (29.29,-0.312) (31.95,-0.232) (34.62,-0.094) (37.28,0.094) (39.95,0.268)
(41.54,0.402) (43.30,0.552)
};
\addlegendentry{model}
\node[ptext, anchor=base east] at (rel axis cs:0.965,0.866) {P=43.3d};
\end{axis}

% ---------------- P = 87.1 d ----------------
\begin{axis}[panel, at={(39.5pt,39.75pt)},
  xmin=-3.484, xmax=90.584, ymin=-0.715, ymax=0.611,
  xtick={0,20,40,60,80}, xticklabels={0,20,40,60,80},
  ytick={-0.6,-0.4,-0.2,0,0.2,0.4,0.6}, yticklabels={−0.6,,−0.2,,0.2,,0.6}]
\addplot[rv] table[row sep=\\] {x y\\
45.0 0.58\\ 45.2 0.48\\ 44.9 0.39\\ 45.1 0.30\\ 45.0 0.20\\ 45.2 0.11\\ 44.9 0.02\\ 45.1 -0.08\\ 45.0 -0.17\\ 45.2 -0.26\\ 44.9 -0.35\\ 45.1 -0.44\\
45.0 -0.53\\ 45.2 -0.62\\ 44.9 -0.69\\ 45.0 0.44\\ 45.1 0.25\\ 45.0 -0.02\\ 45.1 -0.30\\ 45.0 -0.58\\ 45.6 0.15\\ 45.6 -0.40\\ 45.7 0.50\\ 45.6 -0.12\\
6.5 0.50\\ 6.6 0.30\\ 6.5 0.12\\ 6.6 -0.05\\ 6.5 -0.22\\ 6.6 -0.45\\ 6.5 -0.62\\ 6.4 0.00\\
0.3 0.45\\ 0.8 -0.30\\ 1.3 0.10\\ 1.8 -0.62\\ 2.3 0.55\\ 2.8 -0.10\\ 3.3 0.28\\ 3.8 -0.45\\ 0.5 -0.05\\
4.3 0.20\\ 4.8 -0.55\\ 5.3 0.52\\ 5.8 -0.18\\ 7.3 0.35\\ 7.8 -0.68\\ 4.6 -0.02\\ 7.0 0.05\\ 5.5 -0.38\\
8.3 0.60\\ 8.8 -0.25\\ 9.3 0.15\\ 9.8 -0.50\\ 10.3 0.40\\ 10.8 0.00\\ 11.3 -0.65\\ 11.8 0.25\\ 9.0 -0.10\\
12.3 -0.35\\ 12.8 0.48\\ 13.3 -0.05\\ 13.8 0.30\\ 14.3 -0.60\\ 14.8 0.10\\ 15.3 -0.22\\ 15.8 0.57\\ 13.0 -0.48\\
16.3 0.05\\ 16.8 -0.42\\ 17.3 0.38\\ 17.8 -0.12\\ 18.3 0.55\\ 18.8 -0.70\\ 19.3 0.20\\ 19.8 -0.30\\ 17.0 0.00\\
20.3 0.42\\ 20.8 -0.20\\ 21.3 -0.58\\ 21.8 0.15\\ 22.3 0.60\\ 22.8 -0.05\\ 23.3 0.30\\ 23.8 -0.45\\ 21.0 0.25\\
24.3 -0.10\\ 24.8 0.52\\ 25.3 -0.40\\ 25.8 0.08\\ 26.3 -0.65\\ 26.8 0.35\\ 27.3 0.00\\ 27.8 -0.28\\ 25.0 0.20\\
28.3 0.45\\ 28.8 -0.55\\ 29.3 0.12\\ 29.8 -0.15\\ 30.3 0.58\\ 30.8 -0.38\\ 31.3 0.25\\ 31.8 -0.68\\ 29.0 0.00\\
32.3 -0.20\\ 32.8 0.38\\ 33.3 -0.50\\ 33.8 0.05\\ 34.3 0.55\\ 34.8 -0.30\\ 35.3 0.18\\ 35.8 -0.60\\ 33.0 0.48\\
36.3 0.30\\ 36.8 -0.08\\ 37.3 -0.62\\ 37.8 0.50\\ 38.3 -0.25\\ 38.8 0.12\\ 39.3 -0.45\\ 39.8 0.40\\ 37.0 0.02\\
40.3 -0.35\\ 40.8 0.58\\ 41.3 0.02\\ 41.8 -0.55\\ 42.3 0.25\\ 42.8 -0.15\\ 43.3 0.45\\ 43.8 -0.68\\ 41.0 -0.10\\
46.3 0.40\\ 46.8 -0.25\\ 47.3 0.10\\ 47.8 -0.60\\ 48.3 0.55\\ 48.8 -0.02\\ 49.3 0.30\\ 49.8 -0.45\\ 47.0 -0.12\\
50.3 -0.15\\ 50.8 0.48\\ 51.3 -0.50\\ 51.8 0.20\\ 52.3 -0.30\\ 52.8 0.60\\ 53.3 0.00\\ 53.8 -0.65\\ 51.0 0.35\\
54.3 0.25\\ 54.8 -0.40\\ 55.3 0.55\\ 55.8 -0.10\\ 56.3 0.12\\ 56.8 -0.58\\ 57.3 0.40\\ 57.8 -0.25\\ 55.0 -0.70\\
58.3 -0.05\\ 58.8 0.35\\ 59.3 -0.45\\ 59.8 0.58\\ 60.3 0.15\\ 60.8 -0.20\\ 61.3 -0.62\\ 61.8 0.28\\ 59.0 0.02\\
62.3 0.50\\ 62.8 -0.30\\ 63.3 0.08\\ 63.8 -0.55\\ 64.3 0.42\\ 64.8 -0.12\\ 65.3 0.22\\ 65.8 -0.68\\ 63.0 0.60\\
66.3 -0.38\\ 66.8 0.18\\ 67.3 0.55\\ 67.8 -0.05\\ 68.3 -0.50\\ 68.8 0.30\\ 69.3 -0.20\\ 69.8 0.45\\ 67.0 -0.62\\
70.3 0.10\\ 70.8 -0.42\\ 71.3 0.58\\ 71.8 -0.15\\ 72.3 0.25\\ 72.8 -0.65\\ 73.3 0.40\\ 73.8 0.00\\ 71.0 -0.30\\
74.3 -0.25\\ 74.8 0.50\\ 75.3 -0.55\\ 75.8 0.12\\ 76.3 0.35\\ 76.8 -0.10\\ 77.3 -0.45\\ 77.8 0.60\\ 75.0 0.20\\
78.3 0.30\\ 78.8 -0.60\\ 79.3 0.05\\ 79.8 0.48\\ 80.3 -0.30\\ 80.8 0.20\\ 81.3 -0.15\\ 81.8 -0.68\\ 79.0 0.55\\
82.3 -0.05\\ 82.8 0.42\\ 83.3 -0.50\\ 83.8 0.15\\ 84.3 0.58\\ 84.8 -0.25\\ 85.3 0.30\\ 85.8 -0.40\\ 86.4 0.10\\ 86.9 -0.60\\ 86.6 0.50\\
};
\addplot[rv, forget plot] table[row sep=\\] {x y\\
0.1 0.20\\ 0.5 -0.60\\ 0.9 0.52\\ 1.2 -0.18\\ 1.6 0.35\\ 2.0 -0.42\\ 2.4 0.00\\ 2.7 0.58\\ 3.1 -0.65\\ 3.5 0.15\\ 3.9 -0.28\\ 4.2 0.45\\
4.6 -0.50\\ 5.0 0.08\\ 5.4 -0.12\\ 5.7 0.60\\ 6.1 -0.35\\ 6.45 0.40\\ 6.55 -0.30\\ 6.52 0.22\\ 6.48 -0.55\\ 6.9 0.28\\ 7.2 -0.48\\ 7.6 0.05\\
8.0 -0.20\\ 8.4 0.50\\ 8.7 -0.62\\ 9.1 0.32\\ 9.5 -0.05\\ 9.9 0.20\\ 10.2 -0.40\\ 10.6 0.55\\ 11.0 -0.15\\ 11.4 0.08\\ 11.7 -0.55\\ 12.1 0.42\\
12.5 -0.25\\ 12.9 0.18\\ 13.2 0.60\\ 13.6 -0.68\\ 14.0 -0.02\\ 14.4 0.35\\ 14.7 -0.38\\ 15.1 0.12\\ 15.5 -0.58\\ 15.9 0.48\\ 16.2 -0.08\\ 16.6 0.25\\
17.0 -0.65\\ 17.4 0.55\\ 17.7 -0.30\\ 18.1 0.05\\ 18.5 0.38\\ 18.9 -0.45\\ 19.2 0.60\\ 19.6 -0.15\\ 20.0 0.15\\ 20.4 -0.60\\ 20.7 0.30\\ 21.1 -0.02\\
21.5 0.52\\ 21.9 -0.38\\ 22.2 -0.12\\ 22.6 0.40\\ 23.0 -0.68\\ 23.4 0.10\\ 23.7 0.55\\ 24.1 -0.25\\ 24.5 0.22\\ 24.9 -0.52\\ 25.2 0.45\\ 25.6 -0.08\\
26.0 0.60\\ 26.4 -0.35\\ 26.7 0.05\\ 27.1 0.32\\ 27.5 -0.58\\ 27.9 0.18\\ 28.2 -0.20\\ 28.6 0.55\\ 29.0 -0.42\\ 29.4 0.28\\ 29.7 -0.05\\ 30.1 -0.65\\
30.5 0.42\\ 30.9 0.08\\ 31.2 -0.28\\ 31.6 0.58\\ 32.0 -0.50\\ 32.4 0.15\\ 32.7 0.35\\ 33.1 -0.12\\ 33.5 -0.62\\ 33.9 0.50\\ 34.2 0.00\\ 34.6 -0.40\\
35.0 0.25\\ 35.4 0.60\\ 35.7 -0.18\\ 36.1 -0.55\\ 36.5 0.40\\ 36.9 0.10\\ 37.2 -0.32\\ 37.6 0.55\\ 38.0 -0.05\\ 38.4 0.20\\ 38.7 -0.68\\ 39.1 0.45\\
39.5 -0.22\\ 39.9 0.05\\ 40.2 0.35\\ 40.6 -0.48\\ 41.0 0.60\\ 41.4 -0.20\\ 41.7 0.12\\ 42.1 -0.62\\ 42.5 0.48\\ 42.9 -0.02\\ 43.2 0.30\\ 43.6 -0.40\\
44.0 0.52\\ 44.4 -0.12\\ 44.7 0.18\\ 44.95 0.55\\ 45.05 -0.50\\ 44.95 0.35\\ 45.05 0.05\\ 44.95 -0.22\\ 45.05 -0.65\\ 45.15 0.40\\ 45.15 -0.35\\ 45.3 0.60\\
45.3 -0.10\\ 45.4 0.28\\ 45.4 -0.55\\ 45.8 0.05\\ 46.1 -0.60\\ 46.5 0.55\\ 46.9 -0.20\\ 47.2 0.30\\ 47.6 0.02\\ 48.0 -0.45\\ 48.4 0.45\\ 48.7 -0.12\\
49.1 0.18\\ 49.5 -0.68\\ 49.9 0.58\\ 50.2 0.10\\ 50.6 -0.35\\ 51.0 0.42\\ 51.4 -0.02\\ 51.7 -0.58\\ 52.1 0.25\\ 52.5 0.52\\ 52.9 -0.25\\ 53.2 0.12\\
53.6 -0.45\\ 54.0 0.60\\ 54.4 -0.10\\ 54.7 0.35\\ 55.1 -0.60\\ 55.5 0.05\\ 55.9 0.45\\ 56.2 -0.30\\ 56.6 0.22\\ 57.0 -0.68\\ 57.4 0.58\\ 57.7 -0.05\\
58.1 0.30\\ 58.5 -0.50\\ 58.9 0.15\\ 59.2 0.50\\ 59.6 -0.22\\ 60.0 -0.65\\ 60.4 0.40\\ 60.7 0.02\\ 61.1 -0.35\\ 61.5 0.55\\ 61.9 -0.12\\ 62.2 0.20\\
62.6 -0.55\\ 63.0 0.32\\ 63.4 -0.02\\ 63.7 0.60\\ 64.1 -0.40\\ 64.5 0.10\\ 64.9 -0.22\\ 65.2 0.48\\ 65.6 -0.62\\ 66.0 0.25\\ 66.4 -0.05\\ 66.7 0.58\\
67.1 -0.45\\ 67.5 0.12\\ 67.9 0.40\\ 68.2 -0.28\\ 68.6 -0.68\\ 69.0 0.52\\ 69.4 0.02\\ 69.7 -0.35\\ 70.1 0.30\\ 70.5 -0.10\\ 70.9 0.60\\ 71.2 -0.55\\
71.6 0.18\\ 72.0 -0.22\\ 72.4 0.45\\ 72.7 -0.62\\ 73.1 0.08\\ 73.5 0.55\\ 73.9 -0.38\\ 74.2 0.22\\ 74.6 -0.02\\ 75.0 -0.50\\ 75.4 0.38\\ 75.7 0.60\\
76.1 -0.20\\ 76.5 0.10\\ 76.9 -0.65\\ 77.2 0.48\\ 77.6 -0.30\\ 78.0 0.02\\ 78.4 0.30\\ 78.7 -0.48\\ 79.1 0.58\\ 79.5 -0.10\\ 79.9 0.15\\ 80.2 -0.60\\
80.6 0.42\\ 81.0 -0.25\\ 81.4 0.05\\ 81.7 0.52\\ 82.1 -0.40\\ 82.5 0.25\\ 82.9 -0.68\\ 83.2 0.12\\ 83.6 0.58\\ 84.0 -0.18\\ 84.4 0.35\\ 84.7 -0.52\\
85.1 0.00\\ 85.5 0.45\\ 85.9 -0.30\\ 86.2 0.20\\ 86.6 -0.65\\ 86.9 0.55\\ 87.0 -0.08\\
};
\addplot[binned] coordinates {
(1.98,0.479) +- (0,0.019) (6.74,0.473) +- (0,0.021) (11.28,0.427) +- (0,0.022)
(15.61,0.521) +- (0,0.023) (20.01,0.263) +- (0,0.022) (24.35,0.251) +- (0,0.024)
(28.54,-0.028) +- (0,0.026) (33.57,-0.112) +- (0,0.021) (37.13,-0.248) +- (0,0.018)
(41.96,-0.339) +- (0,0.025) (45.32,-0.381) +- (0,0.015) (51.11,-0.526) +- (0,0.024)
(55.09,-0.636) +- (0,0.029) (59.49,-0.462) +- (0,0.023) (64.32,-0.606) +- (0,0.020)
(68.72,-0.356) +- (0,0.019) (73.41,-0.065) +- (0,0.031) (77.81,0.102) +- (0,0.031)
(82.21,0.143) +- (0,0.029) (85.71,0.355) +- (0,0.024)
};
\addplot[model] coordinates {
(0,0.451) (3.38,0.521) (8.27,0.562) (14.2,0.516) (17.7,0.456) (21.2,0.364) (24.7,0.249)
(28.2,0.134) (31.7,0.024) (35.77,-0.114) (39.30,-0.234) (41.66,-0.316) (44.61,-0.390)
(47.56,-0.454) (50.50,-0.510) (53.45,-0.548) (56.10,-0.560) (59.34,-0.542) (62.29,-0.491)
(65.24,-0.417) (67.59,-0.353) (69.94,-0.270) (72.30,-0.169) (74.67,-0.050) (77.01,0.061)
(79.38,0.180) (81.74,0.281) (84.09,0.373) (87.1,0.451)
};
\node[ptext, anchor=base east] at (rel axis cs:0.964,0.868) {P=87.1d};
\end{axis}

% ---------------- P = 147 d ----------------
\begin{axis}[panel, at={(187.5pt,39.75pt)},
  xmin=-5.88, xmax=152.88, ymin=-0.854, ymax=0.644,
  xtick={0,50,100,150}, xticklabels={0,50,100,150},
  ytick={-0.8,-0.6,-0.4,-0.2,0,0.2,0.4,0.6}, yticklabels={−0.8,,−0.4,,0.0,,0.4,}]
\addplot[rv] table[row sep=\\] {x y\\
0.5 0.55\\ 1.5 -0.30\\ 2.5 0.20\\ 3.5 -0.70\\ 4.5 0.40\\ 5.5 -0.05\\ 6.5 0.60\\ 7.5 -0.50\\ 8.5 0.10\\ 9.5 -0.20\\ 1.0 0.30\\
2.0 -0.55\\ 3.0 0.00\\ 4.0 0.50\\ 5.0 -0.40\\ 6.0 0.15\\ 7.0 -0.80\\ 8.0 0.35\\ 9.0 -0.10\\ 0.8 -0.75\\ 3.8 0.25\\ 6.8 -0.25\\
10.5 0.45\\ 11.5 -0.60\\ 12.5 0.05\\ 13.5 0.30\\ 14.5 -0.35\\ 15.5 0.60\\ 16.5 -0.15\\ 17.5 0.20\\ 18.5 -0.70\\ 19.5 0.40\\ 11.0 -0.10\\ 13.0 -0.80\\ 16.0 -0.45\\ 18.0 0.50\\
20.5 -0.30\\ 21.5 0.10\\ 22.5 0.55\\ 23.5 -0.62\\ 24.5 0.25\\ 25.5 -0.10\\ 26.5 0.45\\ 27.5 -0.82\\ 28.5 0.00\\ 29.5 -0.50\\ 22.0 -0.20\\ 27.0 0.35\\
30.5 0.30\\ 31.5 -0.45\\ 32.5 0.60\\ 33.5 -0.15\\ 34.5 0.10\\ 35.5 -0.70\\ 36.5 0.45\\ 37.5 -0.30\\ 38.5 0.20\\ 39.5 -0.55\\ 33.0 -0.80\\
47.5 0.55\\ 47.5 0.35\\ 47.6 0.15\\ 47.5 -0.05\\ 47.6 -0.25\\ 47.5 -0.45\\ 47.6 -0.65\\ 47.5 -0.80\\ 41.0 0.40\\ 42.5 -0.20\\ 43.5 0.10\\ 44.5 -0.60\\ 46.0 0.30\\ 49.0 -0.35\\
50.5 0.45\\ 52.0 -0.10\\ 53.5 0.25\\ 55.0 -0.75\\ 56.5 0.05\\ 58.0 0.55\\ 59.5 -0.40\\ 54.0 -0.50\\
60.5 0.20\\ 62.0 -0.55\\ 63.5 0.60\\ 65.0 -0.20\\ 66.5 0.35\\ 68.0 -0.80\\ 69.5 0.00\\ 64.0 -0.35\\
71.0 0.30\\ 73.0 -0.60\\ 75.0 0.50\\ 76.0 -0.45\\ 80.0 -0.75\\ 83.0 0.30\\ 84.0 -0.20\\ 72.0 -0.10\\
85.5 0.50\\ 86.5 -0.30\\ 87.5 0.10\\ 88.5 -0.70\\ 89.5 0.35\\ 90.5 -0.15\\ 91.5 0.60\\ 92.5 -0.50\\ 93.5 0.20\\ 94.5 -0.80\\ 86.0 0.25\\ 89.0 -0.05\\ 91.0 -0.60\\ 94.0 0.45\\
99.5 0.60\\ 99.6 0.40\\ 99.5 0.20\\ 99.6 0.00\\ 99.5 -0.20\\ 99.6 -0.40\\ 99.5 -0.60\\ 99.6 -0.80\\ 103.5 0.50\\ 103.4 0.30\\ 103.5 0.10\\ 103.4 -0.10\\
103.5 -0.30\\ 103.4 -0.50\\ 103.5 -0.70\\ 95.5 0.30\\ 96.5 -0.45\\ 97.5 0.55\\ 98.5 -0.10\\ 101.0 0.45\\ 102.0 -0.60\\ 104.5 0.15\\ 97.0 -0.75\\ 101.5 -0.25\\
105.5 0.58\\ 106.5 -0.20\\ 107.5 0.30\\ 108.5 -0.65\\ 109.5 0.05\\ 110.5 0.45\\ 111.5 -0.40\\ 112.5 0.20\\ 113.5 -0.80\\ 114.5 0.60\\ 106.0 0.10\\ 108.0 -0.35\\ 111.0 0.62\\ 113.0 -0.05\\
115.5 -0.25\\ 116.5 0.40\\ 117.5 -0.55\\ 118.5 0.15\\ 119.5 0.55\\ 120.5 -0.10\\ 121.5 0.30\\ 122.5 -0.70\\ 123.5 0.05\\ 124.5 0.50\\ 117.0 -0.80\\ 120.0 -0.40\\ 123.0 0.25\\
125.5 -0.35\\ 127.0 0.20\\ 128.5 -0.60\\ 130.0 0.45\\ 131.5 -0.15\\ 133.0 0.10\\ 134.5 -0.45\\ 129.0 0.58\\
135.5 0.40\\ 136.5 -0.25\\ 137.5 0.10\\ 138.5 -0.70\\ 139.5 0.55\\ 140.5 -0.05\\ 141.5 0.25\\ 142.5 -0.50\\ 143.5 0.60\\ 144.5 -0.30\\
145.5 0.15\\ 146.5 -0.80\\ 136.0 0.00\\ 138.0 0.45\\ 140.0 -0.40\\ 142.0 0.50\\ 144.0 -0.15\\ 146.0 0.30\\ 137.0 -0.60\\ 145.0 -0.55\\
};
\addplot[rv, forget plot] table[row sep=\\] {x y\\
0.2 0.10\\ 0.6 -0.45\\ 1.1 0.62\\ 1.4 -0.12\\ 1.8 0.38\\ 2.2 -0.68\\ 2.6 -0.02\\ 3.1 0.48\\ 3.4 -0.35\\ 3.8 -0.82\\ 4.2 0.22\\ 4.7 -0.22\\
5.1 0.58\\ 5.3 -0.60\\ 5.8 0.30\\ 6.2 -0.38\\ 6.6 0.00\\ 7.1 0.45\\ 7.4 -0.15\\ 7.8 -0.65\\ 8.2 0.55\\ 8.7 -0.30\\ 9.1 0.20\\ 9.4 -0.78\\
9.8 0.38\\ 10.2 -0.05\\ 10.7 0.60\\ 11.2 -0.40\\ 11.7 0.15\\ 12.1 -0.70\\ 12.6 0.42\\ 13.2 0.05\\ 13.7 -0.25\\ 14.1 0.52\\ 14.7 -0.55\\ 15.2 0.25\\
15.7 -0.05\\ 16.2 0.40\\ 16.7 -0.78\\ 17.2 0.55\\ 17.7 -0.30\\ 18.2 0.10\\ 18.7 -0.50\\ 19.2 0.62\\ 19.7 -0.12\\ 0.4 -0.20\\ 2.9 -0.55\\ 5.6 0.50\\
8.9 -0.45\\ 12.9 0.30\\ 20.3 0.30\\ 21.0 -0.48\\ 21.8 0.20\\ 22.6 -0.70\\ 23.2 0.48\\ 24.0 -0.05\\ 24.8 -0.38\\ 25.6 0.60\\ 26.2 -0.25\\ 27.0 0.12\\
27.8 -0.60\\ 28.6 0.40\\ 29.2 -0.15\\ 30.0 0.55\\ 30.8 -0.80\\ 31.4 0.05\\ 32.2 -0.28\\ 33.0 0.42\\ 33.8 -0.55\\ 34.6 0.25\\ 35.2 -0.02\\ 36.0 0.60\\
36.8 -0.45\\ 37.6 0.10\\ 38.2 -0.72\\ 39.0 0.35\\ 39.8 0.00\\ 25.0 0.25\\ 31.0 -0.42\\ 37.0 -0.15\\ 40.5 -0.78\\ 42.0 0.55\\ 43.0 -0.45\\ 44.0 0.20\\
45.5 -0.72\\ 47.55 0.45\\ 47.55 -0.15\\ 47.55 -0.55\\ 47.55 0.05\\ 48.5 0.60\\ 50.0 -0.60\\ 51.5 0.30\\ 53.0 -0.82\\ 54.5 -0.25\\ 57.0 -0.65\\ 58.5 0.15\\
61.0 -0.78\\ 62.5 0.35\\ 64.5 -0.70\\ 66.0 0.10\\ 67.5 -0.55\\ 70.0 -0.82\\ 72.5 0.45\\ 74.0 -0.40\\ 76.5 0.20\\ 78.0 -0.60\\ 79.0 0.55\\ 81.0 -0.05\\
82.5 -0.50\\ 84.5 0.60\\ 85.2 -0.45\\ 85.8 0.15\\ 86.8 0.60\\ 87.2 -0.60\\ 87.8 0.30\\ 88.2 -0.15\\ 88.8 0.45\\ 89.2 -0.80\\ 89.8 0.05\\ 90.2 0.55\\
90.8 -0.38\\ 91.2 0.20\\ 91.8 -0.72\\ 92.2 0.40\\ 92.8 -0.05\\ 93.2 0.62\\ 93.8 -0.55\\ 94.2 0.12\\ 94.8 -0.25\\ 95.2 0.58\\ 95.8 -0.68\\ 96.2 0.25\\
96.8 -0.08\\ 97.2 0.45\\ 97.8 -0.40\\ 98.2 0.05\\ 98.8 0.62\\ 99.2 -0.70\\ 99.8 0.30\\ 100.2 -0.15\\ 100.8 0.10\\ 101.2 -0.50\\ 101.8 0.55\\ 102.2 -0.82\\
102.8 0.22\\ 103.2 0.40\\ 103.8 -0.20\\ 104.2 -0.60\\ 104.8 0.50\\ 105.2 -0.35\\ 105.8 0.15\\ 106.2 0.62\\ 106.8 -0.75\\ 107.2 0.02\\ 107.8 0.45\\ 108.2 -0.10\\
108.8 0.25\\ 109.2 -0.48\\ 109.8 0.58\\ 110.2 -0.28\\ 110.8 0.00\\ 111.2 -0.62\\ 111.8 0.35\\ 112.2 -0.15\\ 112.8 0.50\\ 113.2 0.12\\ 113.8 -0.42\\ 114.2 0.28\\
114.8 -0.68\\ 115.2 0.45\\ 115.8 0.05\\ 116.2 -0.35\\ 116.8 0.60\\ 117.2 -0.12\\ 117.8 0.20\\ 118.2 -0.72\\ 118.8 0.40\\ 119.2 -0.30\\ 119.8 0.10\\ 120.2 0.62\\
120.8 -0.55\\ 121.2 0.25\\ 121.8 -0.02\\ 122.2 0.48\\ 122.8 -0.40\\ 123.2 -0.80\\ 123.8 0.35\\ 124.2 -0.18\\ 124.8 0.15\\ 125.2 0.55\\ 125.8 -0.62\\ 126.5 0.35\\
127.5 -0.12\\ 128.2 0.62\\ 129.5 -0.40\\ 130.5 0.15\\ 131.2 -0.78\\ 132.2 0.40\\ 133.5 -0.28\\ 134.2 0.52\\ 135.2 -0.10\\ 135.8 -0.68\\ 136.8 0.50\\ 137.2 0.22\\
137.8 -0.42\\ 138.2 0.00\\ 138.8 0.62\\ 139.2 -0.18\\ 139.8 -0.80\\ 140.2 0.35\\ 140.8 0.12\\ 141.2 -0.58\\ 141.8 0.45\\ 142.2 -0.25\\ 142.8 0.05\\ 143.2 -0.70\\
143.8 0.28\\ 144.2 0.55\\ 144.8 -0.45\\ 145.2 -0.05\\ 145.8 0.62\\ 146.2 -0.32\\ 146.8 0.10\\ 147.0 -0.60\\ 136.2 0.30\\ 139.0 0.18\\ 141.0 -0.30\\ 143.0 0.40\\
145.5 -0.20\\
};
\addplot[binned] coordinates {
(3.38,0.055) +- (0,0.018) (10.13,-0.028) +- (0,0.019) (19.10,-0.221) +- (0,0.029)
(25.83,-0.412) +- (0,0.022) (33.51,-0.391) +- (0,0.022) (39.79,-0.450) +- (0,0.026)
(47.92,-0.387) +- (0,0.026) (55.96,-0.699) +- (0,0.021) (63.41,-0.777) +- (0,0.022)
(70.37,-0.358) +- (0,0.038) (85.74,0.005) +- (0,0.037) (93.42,0.262) +- (0,0.018)
(99.70,0.478) +- (0,0.015) (107.6,0.498) +- (0,0.020) (114.7,0.509) +- (0,0.018)
(121.9,0.504) +- (0,0.018) (128.9,0.556) +- (0,0.033) (138.9,0.398) +- (0,0.031)
(144.6,0.033) +- (0,0.022)
};
\addplot[model] coordinates {
(0,0.182) (5.17,0.078) (10.13,-0.021) (15.78,-0.114) (21.70,-0.207) (27.62,-0.296)
(33.51,-0.384) (39.43,-0.462) (45.32,-0.530) (50.07,-0.576) (55.37,-0.597) (60.69,-0.576)
(65.41,-0.498) (70.14,-0.369) (74.89,-0.218) (80.78,-0.021) (86.70,0.177) (92.59,0.332)
(98.50,0.457) (104.4,0.525) (111.5,0.553) (118.6,0.532) (125.7,0.473) (132.8,0.384)
(139.9,0.280) (147.0,0.182)
};
\node[ptext] at (rel axis cs:0.144,0.868) {P=147d};
\end{axis}

% ---------------- P = 339 d ----------------
\begin{axis}[panel, at={(335.25pt,39.75pt)},
  xmin=-13.56, xmax=352.56, ymin=-1.299, ymax=1.1475,
  xtick={0,50,100,150,200,250,300,350}, xticklabels={0,50,,150,,250,,350},
  ytick={-1,-0.5,0,0.5,1}, yticklabels={−1.0,,0.0,0.5,1.0}]
\addplot[rv] table[row sep=\\] {x y\\
3 0.70\\ 5 -0.25\\ 8 0.30\\ 10 -1.20\\ 14 0.00\\ 17 -0.80\\ 20 0.95\\ 25 -0.40\\ 28 0.15\\ 32 -1.05\\ 36 -0.60\\ 40 0.25\\
44 0.05\\ 48 -0.95\\ 52 0.10\\ 55 -0.30\\ 60 0.60\\ 65 -1.20\\ 70 0.25\\ 75 -0.70\\ 80 0.55\\ 85 -0.10\\ 90 0.30\\ 95 -0.90\\
100 0.55\\ 103 0.10\\ 105 -0.50\\ 108 -1.10\\ 110 0.65\\ 112 -0.20\\ 38 -0.10\\ 58 -0.75\\ 88 -0.45\\ 22 -0.20\\ 46 0.30\\
122 1.05\\ 123 0.85\\ 122 0.70\\ 124 0.55\\ 123 0.40\\ 122 0.25\\ 124 0.10\\ 123 -0.05\\ 122 -0.20\\ 124 -0.35\\ 123 -0.50\\
122 -0.65\\ 124 -0.80\\ 123 -0.95\\ 122 -1.10\\ 124 -1.25\\ 126 0.30\\ 126 -0.60\\ 120 0.50\\ 121 -0.40\\
132 0.20\\ 135 -0.70\\ 138 0.80\\ 141 -0.10\\ 144 0.45\\ 147 -1.00\\ 136 0.05\\ 142 -0.45\\
151 1.00\\ 152 0.75\\ 153 0.50\\ 154 0.30\\ 155 0.10\\ 151 -0.10\\ 152 -0.30\\ 153 -0.50\\ 154 -0.70\\ 155 -0.90\\ 156 -1.10\\
157 0.90\\ 158 0.60\\ 159 0.40\\ 160 0.20\\ 157 0.00\\ 158 -0.20\\ 159 -0.40\\ 160 -0.60\\ 161 -0.80\\ 156 0.65\\ 154 0.85\\
158 -1.00\\ 162 0.35\\ 153 -0.20\\ 157 -0.55\\ 155 0.45\\ 160 0.95\\
166 0.50\\ 168 -0.30\\ 170 0.90\\ 172 -0.80\\ 175 0.70\\ 175 0.45\\ 176 0.20\\ 175 0.00\\ 176 -0.25\\ 175 -0.50\\ 176 -0.75\\
177 0.30\\ 179 -0.10\\ 167 -1.00\\ 171 0.15\\ 180 0.60\\
182 0.30\\ 185 -0.50\\ 188 0.85\\ 191 -0.20\\ 194 0.50\\ 197 -0.90\\ 183 1.05\\ 186 0.10\\ 190 -0.75\\ 193 0.95\\ 196 0.25\\ 199 -0.40\\
201 0.20\\ 202 0.60\\ 203 -0.30\\ 204 0.90\\ 205 0.45\\ 206 -0.60\\ 207 0.05\\ 208 1.05\\ 209 0.70\\ 210 -0.15\\ 211 0.35\\
212 -0.90\\ 213 0.80\\ 214 0.55\\ 215 0.10\\ 216 -0.45\\ 217 1.00\\ 218 0.30\\ 219 -0.20\\ 220 0.65\\ 221 0.90\\ 222 -0.70\\
223 0.15\\ 224 0.50\\ 225 1.10\\ 226 -0.05\\ 227 0.75\\ 228 0.40\\ 229 -0.35\\ 230 0.95\\ 231 0.25\\ 232 -1.00\\ 233 0.60\\
234 0.85\\ 235 0.00\\ 236 -0.55\\ 237 1.05\\ 238 0.45\\ 239 0.20\\ 240 -0.25\\ 241 0.70\\ 242 0.95\\ 243 -0.80\\ 244 0.35\\
245 0.60\\ 246 -0.10\\ 247 1.00\\ 248 0.15\\ 249 -0.45\\ 250 0.80\\ 251 0.50\\ 252 -1.15\\ 253 0.30\\ 254 0.90\\ 255 -0.20\\
256 0.65\\ 257 0.05\\ 258 -0.60\\ 259 0.40\\ 212 0.75\\ 218 0.85\\ 224 1.00\\ 230 0.55\\ 236 0.80\\ 242 0.30\\ 248 0.70\\
206 0.95\\ 228 -0.60\\ 244 -0.40\\ 220 -1.10\\
261 0.50\\ 263 -0.30\\ 265 0.90\\ 267 -0.85\\ 269 0.20\\ 271 -0.05\\ 264 0.60\\ 268 -1.20\\
276 1.12\\ 276 1.00\\ 277 0.90\\ 276 0.80\\ 277 0.70\\ 276 0.60\\ 277 0.50\\ 276 0.40\\ 277 0.30\\ 276 0.20\\ 277 0.10\\
276 0.00\\ 277 -0.10\\ 276 -0.20\\ 277 -0.30\\ 276 -0.40\\ 277 -0.50\\ 276 -0.60\\ 277 -0.70\\ 276 -0.80\\ 277 -0.90\\
276 -1.00\\ 277 -1.10\\ 276 -1.20\\ 275 -1.28\\
280 0.80\\ 282 -0.40\\ 284 0.30\\ 286 -0.90\\ 288 0.55\\ 290 0.00\\ 292 -0.65\\ 294 0.45\\ 296 -0.20\\ 298 -1.10\\ 300 0.20\\
302 -0.50\\ 304 0.60\\ 306 -0.80\\ 308 0.10\\ 281 1.00\\ 285 0.05\\ 289 -0.20\\ 293 -1.00\\ 297 0.70\\ 301 -0.25\\ 305 0.35\\ 309 -0.45\\
316 1.10\\ 316 0.95\\ 317 0.80\\ 316 0.65\\ 317 0.50\\ 316 0.35\\ 317 0.20\\ 316 0.05\\ 317 -0.10\\ 316 -0.25\\ 317 -0.40\\
316 -0.55\\ 317 -0.70\\ 316 -0.85\\ 317 -1.00\\ 316 -1.15\\ 318 -0.30\\ 318 0.40\\ 315 -0.60\\ 314 0.15\\
322 0.50\\ 325 -0.30\\ 328 0.80\\ 331 -0.70\\ 334 0.20\\ 337 -0.10\\ 323 -0.90\\ 326 0.10\\ 330 0.55\\ 339 0.60\\ 339 -0.45\\ 338 -0.90\\
};
\addplot[rv, forget plot] table[row sep=\\] {x y\\
2 -0.95\\ 7 0.45\\ 12 -0.55\\ 16 0.80\\ 24 -1.25\\ 30 0.55\\ 34 -0.20\\ 42 -0.80\\ 50 0.40\\ 57 -1.15\\ 62 0.15\\ 68 -0.45\\
73 0.75\\ 78 -0.25\\ 83 -1.00\\ 92 0.05\\ 98 -0.60\\ 102 0.95\\ 107 -0.15\\ 113 0.35\\
122.5 0.95\\ 123.5 0.62\\ 122.5 0.32\\ 123.5 0.05\\ 122.5 -0.28\\ 123.5 -0.58\\ 122.5 -0.88\\ 123.5 -1.18\\ 124.5 0.78\\ 124.5 -0.12\\ 121.5 0.15\\ 121.5 -0.75\\
129 0.60\\ 131 -0.35\\ 133 -0.95\\ 137 0.40\\ 139 -0.55\\ 140 1.05\\ 143 -0.80\\ 145 0.15\\ 146 0.70\\ 148 -0.30\\ 149 0.50\\ 134 -1.20\\
150.5 0.62\\ 151.5 0.40\\ 152.5 0.15\\ 153.5 -0.05\\ 154.5 -0.35\\ 155.5 -0.60\\ 156.5 -0.85\\ 157.5 -1.05\\ 158.5 0.80\\ 159.5 0.55\\ 160.5 0.30\\ 161.5 0.05\\
162.5 -0.25\\ 163.5 -0.50\\ 150.5 -0.75\\ 151.5 -1.00\\ 152.5 1.05\\ 153.5 0.70\\ 155.5 0.95\\ 156.5 0.20\\ 158.5 -0.70\\ 159.5 -0.10\\ 161.5 0.75\\ 162.5 -0.95\\ 164 0.45\\
165 -0.55\\ 167 0.30\\ 169 -0.10\\ 171 -0.65\\ 173 0.55\\ 174 1.00\\ 175.5 0.85\\ 175.5 0.60\\ 175.5 0.35\\ 175.5 0.10\\ 175.5 -0.15\\ 175.5 -0.40\\
175.5 -0.65\\ 175.5 -0.90\\ 178 -0.45\\ 181 0.95\\ 184 -0.15\\ 187 0.45\\ 189 -0.60\\ 192 0.70\\ 195 -0.05\\ 198 0.40\\ 200 0.85\\ 169 0.65\\
178 0.90\\ 185 0.65\\ 190 0.15\\ 196 -0.65\\ 199 -1.05\\ 180 -0.85\\
200.5 0.50\\ 201.5 -0.05\\ 202.5 0.95\\ 203.5 0.35\\ 204.5 -0.45\\ 205.5 0.75\\ 206.5 0.20\\ 207.5 -0.20\\ 208.5 0.60\\ 209.5 0.95\\ 210.5 0.40\\ 211.5 -0.55\\
212.5 1.05\\ 213.5 0.15\\ 214.5 0.85\\ 215.5 -0.30\\ 216.5 0.50\\ 217.5 0.70\\ 218.5 -0.60\\ 219.5 0.95\\ 220.5 0.25\\ 221.5 0.55\\ 222.5 1.10\\ 223.5 -0.25\\
224.5 0.80\\ 225.5 0.35\\ 226.5 0.95\\ 227.5 -0.15\\ 228.5 0.65\\ 229.5 1.00\\ 230.5 0.10\\ 231.5 0.70\\ 232.5 0.40\\ 233.5 -0.35\\ 234.5 1.05\\ 235.5 0.55\\
236.5 0.25\\ 237.5 0.80\\ 238.5 -0.10\\ 239.5 0.95\\ 240.5 0.45\\ 241.5 -0.55\\ 242.5 0.65\\ 243.5 1.00\\ 244.5 0.15\\ 245.5 0.85\\ 246.5 0.40\\ 247.5 -0.30\\
248.5 0.95\\ 249.5 0.25\\ 250.5 0.60\\ 251.5 -0.10\\ 252.5 0.75\\ 253.5 1.05\\ 254.5 0.45\\ 255.5 -0.40\\ 256.5 0.90\\ 257.5 0.30\\ 258.5 0.70\\ 259.5 -0.15\\
260.5 0.55\\ 261.5 0.95\\ 203 0.65\\ 209 0.30\\ 215 0.45\\ 221 0.75\\ 227 0.20\\ 233 0.90\\ 239 0.60\\ 245 0.05\\ 251 0.85\\ 257 0.50\\
206 -0.90\\ 213 -0.75\\ 219 -0.05\\ 225 -0.85\\ 231 -0.50\\ 237 -0.95\\ 243 0.50\\ 249 -0.70\\ 255 0.30\\ 261 -0.50\\ 214 -1.15\\ 228 -1.25\\
240 -1.05\\ 253 -0.95\\ 204 -1.20\\ 246 -1.25\\ 217 0.20\\ 222 0.40\\ 236 0.65\\ 248 0.45\\
262 -0.75\\ 264 0.25\\ 266 0.75\\ 267 -0.40\\ 269 0.95\\ 270 -0.90\\ 272 0.40\\ 273 -0.20\\ 274 0.70\\ 266 -1.10\\
276.5 1.05\\ 276.5 0.85\\ 276.5 0.65\\ 276.5 0.45\\ 276.5 0.25\\ 276.5 0.05\\ 276.5 -0.15\\ 276.5 -0.35\\ 276.5 -0.55\\ 276.5 -0.75\\ 276.5 -0.95\\ 276.5 -1.15\\
278 0.35\\ 279 -0.65\\ 283 0.65\\ 284 -1.05\\ 287 0.15\\ 288 -0.50\\ 291 0.85\\ 292 0.30\\ 295 -0.80\\ 296 0.95\\ 299 -0.05\\ 300 -0.70\\
303 0.45\\ 304 -1.20\\ 307 0.25\\ 308 0.75\\ 310 -0.20\\ 311 0.55\\ 312 -0.90\\ 283 -0.25\\ 290 -0.95\\ 295 0.05\\ 302 0.85\\ 306 -0.35\\
310 1.00\\ 279 0.70\\ 286 0.45\\ 294 -0.40\\ 298 0.40\\ 301 0.65\\
315.5 1.00\\ 316.5 0.72\\ 315.5 0.45\\ 316.5 0.28\\ 315.5 0.10\\ 316.5 -0.18\\ 315.5 -0.35\\ 316.5 -0.62\\ 315.5 -0.78\\ 316.5 -0.95\\ 315.5 -1.10\\ 316.5 -1.25\\
317.5 0.60\\ 317.5 -0.50\\ 317.5 0.00\\
319 -0.80\\ 320 0.30\\ 321 -0.35\\ 324 0.70\\ 327 -0.55\\ 329 0.15\\ 332 -1.00\\ 333 0.50\\ 335 -0.25\\ 336 -0.70\\ 338 0.30\\ 339 -1.10\\
};
\addplot[binned] coordinates {
(3.9,-0.665) +- (0,0.035) (28.4,-0.948) +- (0,0.030) (45.3,-1.180) +- (0,0.036)
(65.7,-0.363) +- (0,0.160) (98.8,-0.787) +- (0,0.042) (125.0,-0.236) +- (0,0.024)
(152.2,0.251) +- (0,0.023) (167.2,0.378) +- (0,0.025) (182.7,0.612) +- (0,0.024)
(201.7,0.612) +- (0,0.030) (216.7,1.041) +- (0,0.021) (234.3,0.951) +- (0,0.025)
(252.0,0.866) +- (0,0.021) (273.2,0.709) +- (0,0.019) (283.3,0.561) +- (0,0.021)
(305.0,0.108) +- (0,0.025) (317.8,-0.137) +- (0,0.021) (339.6,0.027) +- (0,0.117)
};
\addplot[model] coordinates {
(0,-0.535) (12.6,-0.753) (26.2,-0.939) (39.8,-1.058) (54.7,-1.117) (67.0,-1.092)
(80.6,-0.990) (94.2,-0.821) (107.8,-0.583) (121.4,-0.312) (135.0,-0.024) (148.7,0.264)
(162.2,0.502) (175.8,0.705) (189.5,0.858) (203.0,0.968) (216.7,1.036) (230.3,1.053)
(243.8,1.027) (257.5,0.943) (271.0,0.807) (284.7,0.603) (298.2,0.349) (311.8,0.061)
(325.5,-0.244) (339.0,-0.535)
};
\node[ptext] at (rel axis cs:0.146,0.868) {P=339d};
\end{axis}

% shared axis titles
\node[anchor=base, font=\lbfont] at (246.5pt,15.75pt) {orbital phase [day]};
\node[rotate=90, anchor=base, font=\lbfont] at (18.25pt,160pt) {RV(data−model) [m/s]};
\end{tikzpicture}
\end{document}
